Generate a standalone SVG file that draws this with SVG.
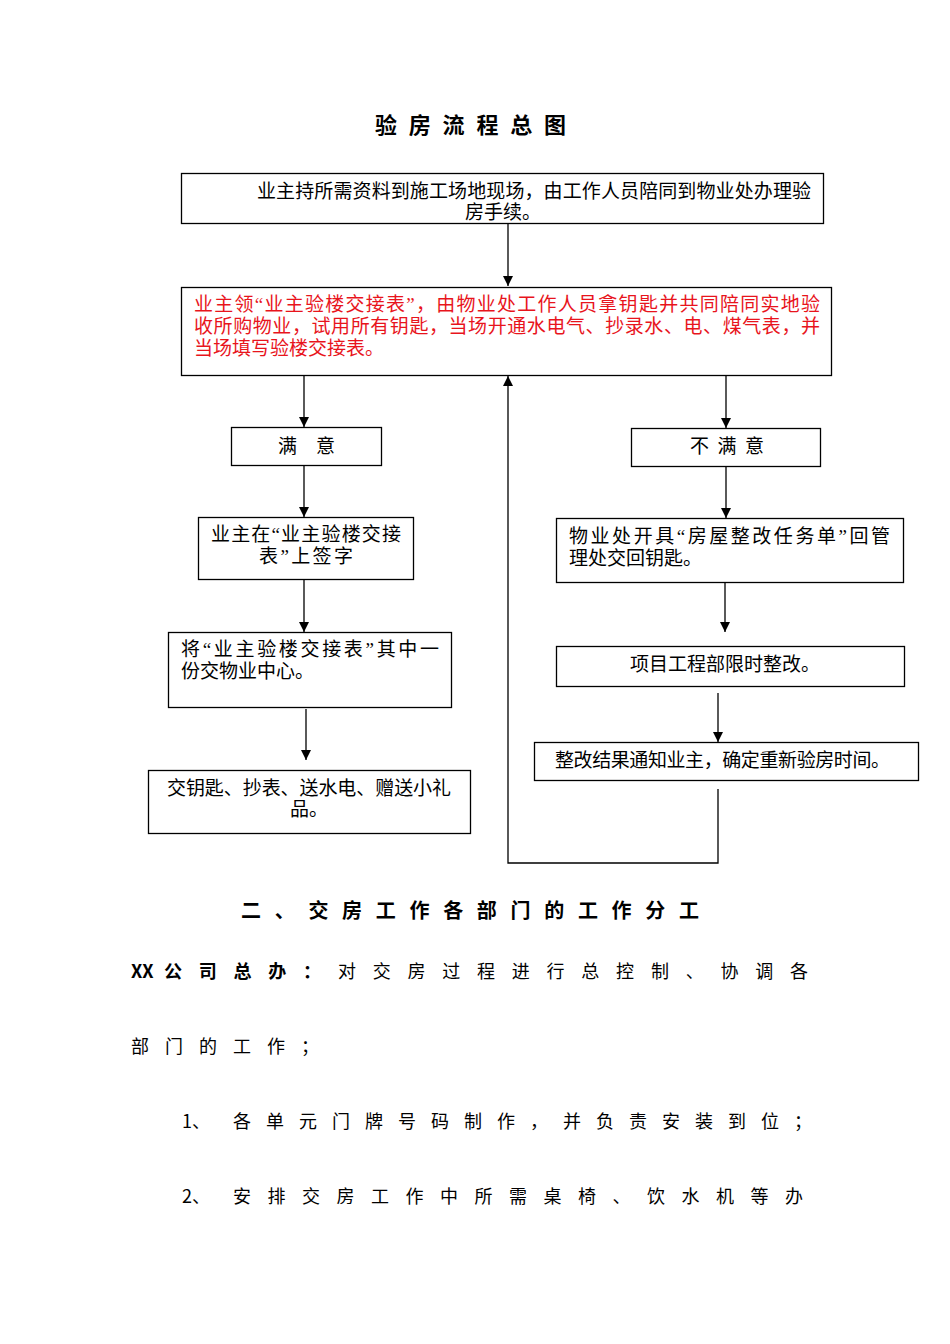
<svg xmlns="http://www.w3.org/2000/svg" width="950" height="1344" viewBox="0 0 950 1344">
<style>
.box{fill:#fff;stroke:#000;stroke-width:1.3}
.t{font-family:"Liberation Serif","Noto Sans CJK SC",serif;font-size:19px;fill:#000}
.red{fill:#e8141c}
.h{font-family:"Noto Sans CJK SC","Liberation Sans",sans-serif;font-weight:bold;fill:#000}
.b{font-family:"Noto Sans CJK SC","Liberation Sans",sans-serif;font-size:18px;fill:#000}
.c{fill:none;stroke:#000;stroke-width:1.3}
</style>
<defs>
<marker id="ah" markerUnits="userSpaceOnUse" markerWidth="10" markerHeight="11" refX="10" refY="5" orient="auto">
<path d="M0,0 L10,5 L0,10 z" fill="#000"/>
</marker>
</defs>
<rect width="950" height="1344" fill="#fff"/>
<text class="h" x="375" y="133" font-size="22" textLength="191" lengthAdjust="spacing">验房流程总图</text>

<g id="connectors">
<line class="c" x1="508" y1="223" x2="508" y2="286" marker-end="url(#ah)"/>
<line class="c" x1="304" y1="375" x2="304" y2="427" marker-end="url(#ah)"/>
<line class="c" x1="726" y1="375" x2="726" y2="428" marker-end="url(#ah)"/>
<line class="c" x1="304" y1="465" x2="304" y2="517" marker-end="url(#ah)"/>
<line class="c" x1="304" y1="579" x2="304" y2="632" marker-end="url(#ah)"/>
<line class="c" x1="306" y1="709" x2="306" y2="760" marker-end="url(#ah)"/>
<line class="c" x1="726" y1="466" x2="726" y2="518" marker-end="url(#ah)"/>
<line class="c" x1="725" y1="582" x2="725" y2="632" marker-end="url(#ah)"/>
<line class="c" x1="718" y1="693" x2="718" y2="742" marker-end="url(#ah)"/>
<polyline class="c" points="718,789 718,863 508,863 508,376" marker-end="url(#ah)"/>
</g>

<g id="n1">
<rect class="box" x="181.5" y="173.5" width="642" height="50"/>
<text class="t"><tspan x="257" y="198" textLength="554" lengthAdjust="spacing">业主持所需资料到施工场地现场，由工作人员陪同到物业处办理验</tspan><tspan x="465" y="219">房手续。</tspan></text>
</g>

<g id="n2">
<rect class="box" x="181.5" y="287.5" width="650" height="88"/>
<text class="t red"><tspan x="194" y="311" textLength="626" lengthAdjust="spacing">业主领“业主验楼交接表”，由物业处工作人员拿钥匙并共同陪同实地验</tspan><tspan x="194" y="333" textLength="626" lengthAdjust="spacing">收所购物业，试用所有钥匙，当场开通水电气、抄录水、电、煤气表，并</tspan><tspan x="194" y="355">当场填写验楼交接表。</tspan></text>
</g>

<g id="n3">
<rect class="box" x="231.5" y="427.5" width="150" height="38"/>
<text class="t" x="278" y="453">满　意</text>
</g>

<g id="n4">
<rect class="box" x="198.5" y="517.5" width="215" height="62"/>
<text class="t"><tspan x="211" y="541" textLength="190" lengthAdjust="spacing">业主在“业主验楼交接</tspan><tspan x="259" y="563" textLength="94" lengthAdjust="spacing">表”上签字</tspan></text>
</g>

<g id="n5">
<rect class="box" x="168.5" y="632.5" width="283" height="75"/>
<text class="t"><tspan x="181" y="656" textLength="258" lengthAdjust="spacing">将“业主验楼交接表”其中一</tspan><tspan x="181" y="678">份交物业中心。</tspan></text>
</g>

<g id="n6">
<rect class="box" x="148.5" y="770.5" width="322" height="63"/>
<text class="t"><tspan x="167" y="795" textLength="284" lengthAdjust="spacing">交钥匙、抄表、送水电、赠送小礼</tspan><tspan x="290" y="816">品。</tspan></text>
</g>

<g id="n7">
<rect class="box" x="631.5" y="428.5" width="189" height="38"/>
<text class="t" x="690" y="453" textLength="74" lengthAdjust="spacing">不满意</text>
</g>

<g id="n8">
<rect class="box" x="556.5" y="518.5" width="347" height="64"/>
<text class="t"><tspan x="569" y="543" textLength="321" lengthAdjust="spacing">物业处开具“房屋整改任务单”回管</tspan><tspan x="569" y="565">理处交回钥匙。</tspan></text>
</g>

<g id="n9">
<rect class="box" x="556.5" y="646.5" width="348" height="40"/>
<text class="t" x="725" y="671" text-anchor="middle">项目工程部限时整改。</text>
</g>

<g id="n10">
<rect class="box" x="534.5" y="742.5" width="384" height="38"/>
<text class="t" x="555" y="767" textLength="335" lengthAdjust="spacing">整改结果通知业主，确定重新验房时间。</text>
</g>

<text class="h" x="241" y="918" font-size="20" textLength="458" lengthAdjust="spacing">二、交房工作各部门的工作分工</text>
<text class="h" x="131" y="978" font-size="18">XX</text>
<text class="b" x="164" y="978" textLength="644" lengthAdjust="spacing"><tspan font-weight="bold">公司总办：</tspan>对交房过程进行总控制、协调各</text>
<text class="b" x="131" y="1053" textLength="188" lengthAdjust="spacing">部门的工作；</text>
<text class="b" x="182" y="1128">1、</text>
<text class="b" x="233" y="1128" textLength="579" lengthAdjust="spacing">各单元门牌号码制作，并负责安装到位；</text>
<text class="b" x="182" y="1203">2、</text>
<text class="b" x="233" y="1203" textLength="570" lengthAdjust="spacing">安排交房工作中所需桌椅、饮水机等办</text>
</svg>
